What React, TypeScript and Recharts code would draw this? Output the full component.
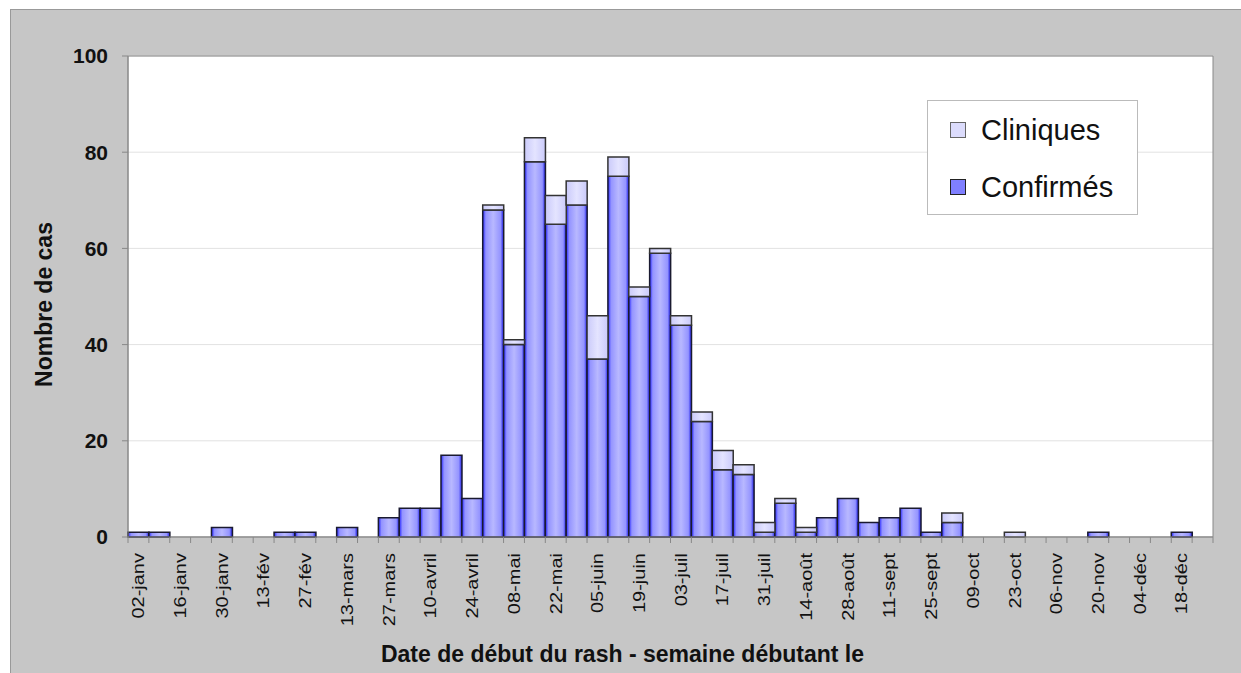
import React from 'react';
import { BarChart, Bar, XAxis, YAxis, CartesianGrid, Legend, ReferenceArea } from 'recharts';

const weeks = [
  '02-janv', '09-janv', '16-janv', '23-janv', '30-janv', '06-fév', '13-fév', '20-fév', '27-fév',
  '06-mars', '13-mars', '20-mars', '27-mars', '03-avril', '10-avril', '17-avril', '24-avril',
  '01-mai', '08-mai', '15-mai', '22-mai', '29-mai', '05-juin', '12-juin', '19-juin', '26-juin',
  '03-juil', '10-juil', '17-juil', '24-juil', '31-juil', '07-août', '14-août', '21-août', '28-août',
  '04-sept', '11-sept', '18-sept', '25-sept', '02-oct', '09-oct', '16-oct', '23-oct', '30-oct',
  '06-nov', '13-nov', '20-nov', '27-nov', '04-déc', '11-déc', '18-déc', '25-déc',
];

const confirmes = [
  1, 1, 0, 0, 2, 0, 0, 1, 1, 0,
  2, 0, 4, 6, 6, 17, 8, 68, 40, 78,
  65, 69, 37, 75, 50, 59, 44, 24, 14, 13,
  1, 7, 1, 4, 8, 3, 4, 6, 1, 3,
  0, 0, 0, 0, 0, 0, 1, 0, 0, 0, 1, 0,
];

const cliniques = [
  0, 0, 0, 0, 0, 0, 0, 0, 0, 0,
  0, 0, 0, 0, 0, 0, 0, 1, 1, 5,
  6, 5, 9, 4, 2, 1, 2, 2, 4, 2,
  2, 1, 1, 0, 0, 0, 0, 0, 0, 2,
  0, 0, 1, 0, 0, 0, 0, 0, 0, 0, 0, 0,
];

const yTicks = [0, 20, 40, 60, 80, 100];

const data = weeks.map((week, i) => ({ week, confirmes: confirmes[i], cliniques: cliniques[i] }));

const W = 1241;
const H = 673;
const margin = { top: 56, right: 28, bottom: 46, left: 0 };
const Y_AXIS_W = 128;
const BAND = (W - margin.left - margin.right - Y_AXIS_W) / weeks.length;

const WeekTick = (props: any) => {
  const { x, y, payload } = props;
  const index = props.index ?? payload.index;
  const half = BAND / 2;
  return (
    <g>
      <line x1={x - half} x2={x - half} y1={y - 8} y2={y - 2} stroke="#888" />
      {index === weeks.length - 1 && (
        <line x1={x + half} x2={x + half} y1={y - 8} y2={y - 2} stroke="#888" />
      )}
      {index % 2 === 0 && (
        <text
          transform={`translate(${x},${y + 8}) rotate(-90) scale(1,0.8)`}
          textAnchor="end"
          dy="0.36em"
          fontSize={20}
          fill="#111"
        >
          {payload.value}
        </text>
      )}
    </g>
  );
};

const YTitle = (props: any) => {
  const { x, y, height } = props.viewBox;
  return (
    <text
      transform={`translate(${x + 44},${y + height / 2 + 8}) rotate(-90)`}
      textAnchor="middle"
      dy="0.36em"
      fontSize={23}
      fontWeight="bold"
      fill="#111"
    >
      Nombre de cas
    </text>
  );
};

const XTitle = (props: any) => {
  const { x, y, width } = props.viewBox;
  return (
    <text x={x + width / 2 - 48} y={y + 125} textAnchor="middle" fontSize={23} fontWeight="bold" fill="#111">
      Date de début du rash - semaine débutant le
    </text>
  );
};

const LegendBox = () => (
  <div
    style={{
      width: 211,
      height: 115,
      boxSizing: 'border-box',
      background: '#fff',
      border: '1px solid #bbb',
      position: 'relative',
    }}
  >
    {[
      { label: 'Cliniques', fill: '#dcdcfc', stroke: '#666', top: 29 },
      { label: 'Confirmés', fill: '#7f7fff', stroke: '#222', top: 86 },
    ].map((it) => (
      <div key={it.label} style={{ position: 'absolute', left: 22, top: it.top - 17, height: 34, display: 'flex', alignItems: 'center' }}>
        <span
          style={{
            display: 'inline-block',
            width: 14,
            height: 14,
            background: it.fill,
            border: `1.5px solid ${it.stroke}`,
            marginRight: 15,
          }}
        />
        <span style={{ fontSize: 29, color: '#111', lineHeight: '34px' }}>{it.label}</span>
      </div>
    ))}
  </div>
);

export default function App() {
  return (
    <div
      style={{
        position: 'absolute',
        left: 0,
        top: 0,
        width: W,
        height: H,
        background: '#fff',
        fontFamily: '"Liberation Sans", Arial, sans-serif',
        overflow: 'hidden',
      }}
    >
      <div
        style={{
          position: 'absolute',
          left: 10,
          top: 9,
          right: 0,
          bottom: 0,
          background: '#c6c6c6',
          borderLeft: '1px solid #999',
          borderTop: '1px solid #999',
        }}
      />
      <div style={{ position: 'absolute', left: 0, top: 0 }}>
        <BarChart width={W} height={H} data={data} margin={margin} barCategoryGap={0}>
          <defs>
            <linearGradient id="confGrad" x1="0" y1="0" x2="1" y2="0">
              <stop offset="0%" stopColor="#2222ff" />
              <stop offset="15%" stopColor="#9494ff" />
              <stop offset="50%" stopColor="#b8b8ff" />
              <stop offset="85%" stopColor="#9494ff" />
              <stop offset="100%" stopColor="#1a1ae8" />
            </linearGradient>
            <linearGradient id="cliGrad" x1="0" y1="0" x2="1" y2="0">
              <stop offset="0%" stopColor="#cacafa" />
              <stop offset="50%" stopColor="#e4e4ff" />
              <stop offset="100%" stopColor="#cacafa" />
            </linearGradient>
          </defs>
          <CartesianGrid vertical={false} stroke="#e2e2e2" fill="#fff" />
          <XAxis
            dataKey="week"
            interval={0}
            height={90}
            tickLine={false}
            tickSize={6}
            tickMargin={2}
            axisLine={{ stroke: '#888' }}
            tick={<WeekTick />}
            label={<XTitle />}
          />
          <YAxis
            width={Y_AXIS_W}
            domain={[0, 100]}
            ticks={yTicks}
            interval={0}
            tickSize={6}
            tickMargin={14}
            axisLine={{ stroke: '#888' }}
            tickLine={{ stroke: '#888' }}
            tick={{ fontSize: 21, fontWeight: 'bold', fill: '#111' }}
            label={<YTitle />}
          />
          <ReferenceArea y1={0} y2={100} fill="none" stroke="#888" ifOverflow="visible" />
          <Bar dataKey="confirmes" stackId="a" fill="url(#confGrad)" stroke="#1a1a30" strokeWidth={1.5} isAnimationActive={false} />
          <Bar dataKey="cliniques" stackId="a" fill="url(#cliGrad)" stroke="#333" strokeWidth={1.5} isAnimationActive={false} />
          <Legend
            layout="horizontal"
            verticalAlign="middle"
            align="center"
            content={<LegendBox />}
            wrapperStyle={{ position: 'absolute', left: 927, top: 100, width: 211, height: 115 }}
          />
        </BarChart>
      </div>
    </div>
  );
}
